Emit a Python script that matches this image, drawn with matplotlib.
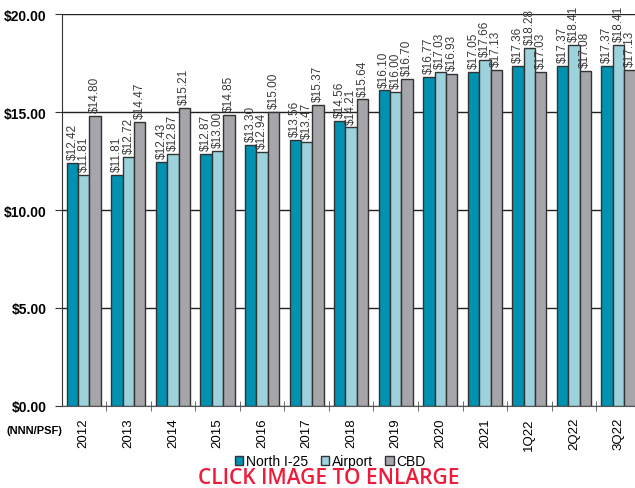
import numpy as np
import matplotlib
matplotlib.use('Agg')
import matplotlib.pyplot as plt
from matplotlib.patches import Patch

plt.rcParams['font.family'] = ['Liberation Sans', 'DejaVu Sans']

# --- Data ---
periods = ['2012', '2013', '2014', '2015', '2016', '2017', '2018', '2019',
           '2020', '2021', '1Q22', '2Q22', '3Q22']
north_i25 = [12.42, 11.81, 12.43, 12.87, 13.30, 13.56, 14.56, 16.10,
             16.77, 17.05, 17.36, 17.37, 17.37]
airport = [11.81, 12.72, 12.87, 13.00, 12.94, 13.47, 14.21, 16.00,
           17.03, 17.66, 18.28, 18.41, 18.41]
cbd = [14.80, 14.47, 15.21, 14.85, 15.00, 15.37, 15.64, 16.70,
       16.93, 17.13, 17.03, 17.08, 17.13]
series_names = ['North I-25', 'Airport', 'CBD']
y_ticks = [0, 5, 10, 15, 20]

colors = ['#0092b0', '#9dd2dc', '#a5a5aa']
edge = '#333333'

# --- Plotting ---
fig = plt.figure(figsize=(6.35, 4.89), dpi=100)
ax = fig.add_axes([0.0976, 0.1677, 0.9024, 0.8016])

x = np.arange(len(periods))
w = 0.255
for k, (vals, col) in enumerate(zip([north_i25, airport, cbd], colors)):
    xs = x + (k - 1) * w
    ax.bar(xs, vals, width=w, color=col, edgecolor=edge, linewidth=1.0, zorder=3)
    for xi, v in zip(xs, vals):
        ax.text(xi, v + 0.2, f'${v:.2f}', rotation=90, ha='center', va='bottom',
                fontsize=8.5, color='#3a3a3a', clip_on=False, zorder=4)

ax.set_ylim(0, 20)
ax.set_xlim(-0.49, 12.37)
ax.set_yticks(y_ticks)
ax.set_yticklabels([f'${t:.2f}' for t in y_ticks], fontsize=10, fontweight='bold')
ax.yaxis.grid(True, color='#222222', linewidth=1.0, zorder=0)
ax.set_axisbelow(True)

ax.set_xticks(x)
ax.set_xticklabels(periods, rotation=90, fontsize=9.5)
ax.tick_params(axis='x', which='major', length=0, pad=8)
ax.set_xticks(x[:-1] + 0.5, minor=True)
ax.tick_params(axis='x', which='minor', direction='inout', length=7, color='#555555')
ax.tick_params(axis='y', direction='out', length=5, color='#333333', pad=6)

for s in ['top', 'right']:
    ax.spines[s].set_visible(False)
ax.spines['left'].set_color('#333333')
ax.spines['bottom'].set_color('#555555')

fig.text(0.054, 0.118, '(NNN/PSF)', fontsize=8, fontweight='bold', ha='center', va='center')

handles = [Patch(facecolor=c, edgecolor=edge, linewidth=1.0, label=n)
           for c, n in zip(colors, series_names)]
fig.legend(handles=handles, loc='center', bbox_to_anchor=(0.52, 0.055), ncol=3,
           frameon=False, fontsize=10, handlelength=0.6, handleheight=0.6,
           handletextpad=0.2, columnspacing=0.9)

fig.text(0.518, 0.021, 'CLICK IMAGE TO ENLARGE', fontsize=15, color='#ee1c3a',
         ha='center', va='center', family=['Open Sans', 'DejaVu Sans'], fontweight='semibold')

plt.savefig('out.png', dpi=100, facecolor='white')
